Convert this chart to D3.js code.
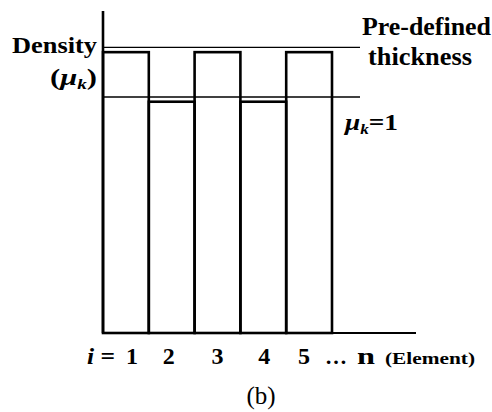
<!DOCTYPE html>
<html>
<head>
<meta charset="utf-8">
<script src="https://cdn.jsdelivr.net/npm/d3@7/dist/d3.min.js"></script>
<style>
  html, body { margin: 0; padding: 0; background: #fff; }
  svg { display: block; }
  text { font-family: "Liberation Serif", "Times New Roman", Times, serif; fill: #000; }
</style>
</head>
<body>
<svg id="chart" width="492" height="412"></svg>
<script>
// Element densities (relative to μk = 1)
const elements = ["1", "2", "3", "4", "5"];
const density = [1.19, 0.98, 1.19, 0.98, 1.19];
const thicknessLevel = 1.21;   // pre-defined thickness
const unitLevel = 1;           // μk = 1
// small horizontal nudges of the element numbers under their bars
const labelNudge = [6, -3, 0, 1, -5];

const svg = d3.select("#chart");

const x = d3.scaleBand().domain(elements).range([103, 332]).padding(0);
const y = d3.scaleLinear().domain([0, 1]).range([333, 97]);
const xEnd = 416, lineEnd = 360, yTop = 11;

// reference levels
[thicknessLevel, unitLevel].forEach(v => {
  svg.append("line")
    .attr("x1", x.range()[0]).attr("x2", lineEnd)
    .attr("y1", y(v)).attr("y2", y(v))
    .attr("stroke", "#000").attr("stroke-width", 1.3);
});

// element bars (outlined)
svg.selectAll("rect.bar")
  .data(elements.map((e, i) => ({ e, v: density[i] })))
  .join("rect")
  .attr("class", "bar")
  .attr("x", d => x(d.e))
  .attr("y", d => y(d.v))
  .attr("width", x.bandwidth())
  .attr("height", d => y(0) - y(d.v))
  .attr("fill", "none")
  .attr("stroke", "#000")
  .attr("stroke-width", 2.6);

// axes
svg.append("line")
  .attr("x1", x.range()[0]).attr("x2", x.range()[0])
  .attr("y1", yTop).attr("y2", y(0))
  .attr("stroke", "#000").attr("stroke-width", 2.6);
svg.append("line")
  .attr("x1", x.range()[0]).attr("x2", xEnd)
  .attr("y1", y(0)).attr("y2", y(0))
  .attr("stroke", "#000").attr("stroke-width", 2.2);

function label(xp, yp, size, anchor, len) {
  const t = svg.append("text").attr("x", xp).attr("y", yp)
    .attr("text-anchor", anchor).attr("font-size", size).attr("font-weight", "bold");
  if (len) t.attr("textLength", len).attr("lengthAdjust", "spacingAndGlyphs");
  return t;
}

// y-axis title
label(97, 53, 24, "end", 85).text("Density");
const mu = label(97, 85, 24, "end", 47);
mu.append("tspan").text("(");
mu.append("tspan").attr("font-style", "italic").text("μ");
mu.append("tspan").attr("font-style", "italic").attr("font-size", 15).attr("dy", 4).text("k");
mu.append("tspan").attr("dy", -4).text(")");

// level annotations
label(362, 35, 25, "start", 129).text("Pre-defined");
label(368, 65, 25, "start", 104).text("thickness");
const mu1 = label(345, 130, 24, "start", 53);
mu1.append("tspan").attr("font-style", "italic").text("μ");
mu1.append("tspan").attr("font-style", "italic").attr("font-size", 15).attr("dy", 4).text("k");
mu1.append("tspan").attr("dy", -4).text("=1");

// element labels
const labelY = 364;
svg.selectAll("text.elem")
  .data(elements)
  .join("text")
  .attr("class", "elem")
  .attr("x", (d, i) => x(d) + x.bandwidth() / 2 + labelNudge[i])
  .attr("y", labelY)
  .attr("text-anchor", "middle")
  .attr("font-size", 24).attr("font-weight", "bold")
  .text(d => d);
const iEq = label(115, labelY, 24, "end", 28);
iEq.append("tspan").attr("font-style", "italic").text("i");
iEq.append("tspan").text(" =");
label(325, labelY, 22, "start", 22).text("…");
label(357, labelY, 24, "start", 18).text("n");
label(385, labelY, 17, "start", 90).text("(Element)");

// panel label
svg.append("text").attr("x", 261).attr("y", 404)
  .attr("text-anchor", "middle").attr("font-size", 25)
  .text("(b)");
</script>
</body>
</html>
